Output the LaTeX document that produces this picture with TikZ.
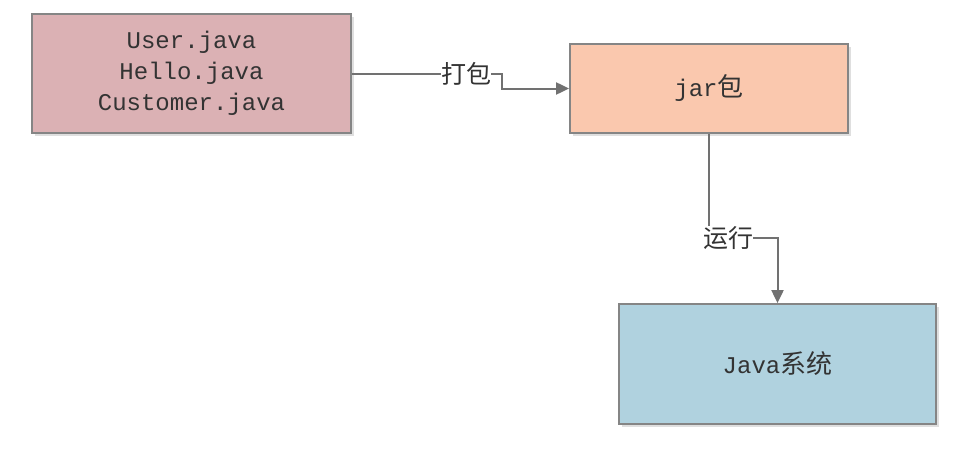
\documentclass[tikz,border=0pt]{standalone}
\usepackage{fontspec}
\setmainfont{Liberation Mono}
\newfontfamily\cjk{Noto Sans CJK SC}
\usetikzlibrary{arrows.meta,shadows}
\definecolor{srcfill}{HTML}{DBB1B4}
\definecolor{jarfill}{HTML}{FAC8AE}
\definecolor{sysfill}{HTML}{B0D2DF}
\definecolor{edge}{HTML}{858585}
\definecolor{txt}{HTML}{333333}
\tikzset{
  filebox/.style={draw=edge,line width=1.8pt,text=txt,inner sep=0pt,
    font=\fontsize{24}{31}\selectfont,align=center,
    drop shadow={shadow xshift=2.5pt,shadow yshift=-2.5pt,opacity=0.25}},
  steplabel/.style={inner sep=0pt,text=txt,font=\cjk\fontsize{25}{30}\selectfont},
  flow/.style={draw=edge!85!black,line width=2pt}
}

\begin{document}
\begin{tikzpicture}[x=1pt,y=-1pt,>={Triangle[length=13pt,width=12pt]}]
\useasboundingbox[fill=white] (0,0) rectangle (960,463);
% ---------- boxes ----------
\node[filebox,fill=srcfill,minimum width=319pt,minimum height=119pt] (src) at (191.5,73.5)
  {User.java\\Hello.java\\Customer.java};
\node[filebox,fill=jarfill,minimum width=278pt,minimum height=89pt] (jar) at (709,88.5)
  {jar{\cjk\fontsize{26}{30}\selectfont 包}};
\node[filebox,fill=sysfill,minimum width=317pt,minimum height=120pt] (sys) at (777.5,364)
  {Java{\cjk\fontsize{26}{30}\selectfont 系统}};
% ---------- step labels ----------
\node[steplabel] (pack) at (466,74) {打包};
\node[steplabel] (run) at (728,238) {运行};
\coordinate (packbend) at (502,73.5);
% ---------- connectors ----------
\draw[flow] (src.east) -- (src.east -| pack.west);
\draw[flow,->] (pack.east |- packbend) -- (packbend) |- (jar.west);
\draw[flow] (jar.south) -- (jar.south |- run.north);
\draw[flow,->] (run.east) -| (sys.north);
\end{tikzpicture}
\end{document}
